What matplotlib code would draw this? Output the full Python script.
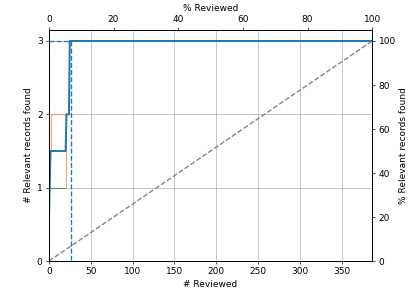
import numpy as np
import matplotlib
matplotlib.use("Agg")
from matplotlib import pyplot as plt

n_records = 386
n_relevant = 3

# mean recall curve over the runs
mean_x = [0, 1, 2, 20, 21, 24, 25, 386]
mean_y = [0.5, 1, 1.5, 1.5, 2, 2, 3, 3]
# upper run
upper_x = [0, 0, 2, 2, 20, 20]
upper_y = [0, 1.5, 1.5, 2, 2, 1]
# lower run
lower_x = [0, 20]
lower_y = [1, 1]
# record at which all relevant found
all_found_at = 26.5

dpi = 414 / 6.4
fig = plt.figure(figsize=(6.4, 294 / dpi), dpi=dpi)
ax1 = fig.add_axes([0.118, 0.112, 0.781, 0.786])

ax1.plot(lower_x, lower_y, color='tab:green', lw=1)
ax1.plot(upper_x, upper_y, color='tab:orange', lw=1, alpha=0.8)
ax1.plot(mean_x, mean_y, color='tab:blue', lw=2.2)
ax1.plot([0, all_found_at], [n_relevant, n_relevant], color='tab:blue', lw=1.5, ls='--')
ax1.plot([all_found_at, all_found_at], [n_relevant, 0], color='tab:blue', lw=1.5, ls='--')
ax1.plot([0, n_records], [0, n_relevant], color='gray', lw=1.5, ls='--')

ax1.set_xlim(0, n_records)
ax1.set_ylim(0, n_relevant * 1.05)
ax1.set_xticks(np.arange(0, 351, 50))
ax1.set_yticks([0, 1, 2, 3])
ax1.grid(True)
ax1.set_xlabel('# Reviewed')
ax1.set_ylabel('# Relevant records found')

ax2 = ax1.twinx()
ax2.set_ylim(0, 105)
ax2.set_yticks(np.arange(0, 101, 20))
ax2.set_ylabel('% Relevant records found')

ax3 = ax1.twiny()
ax3.set_xlim(0, 100)
ax3.set_xticks(np.arange(0, 101, 20))
ax3.set_xlabel('% Reviewed')

fig.savefig('out.png', dpi=dpi)
